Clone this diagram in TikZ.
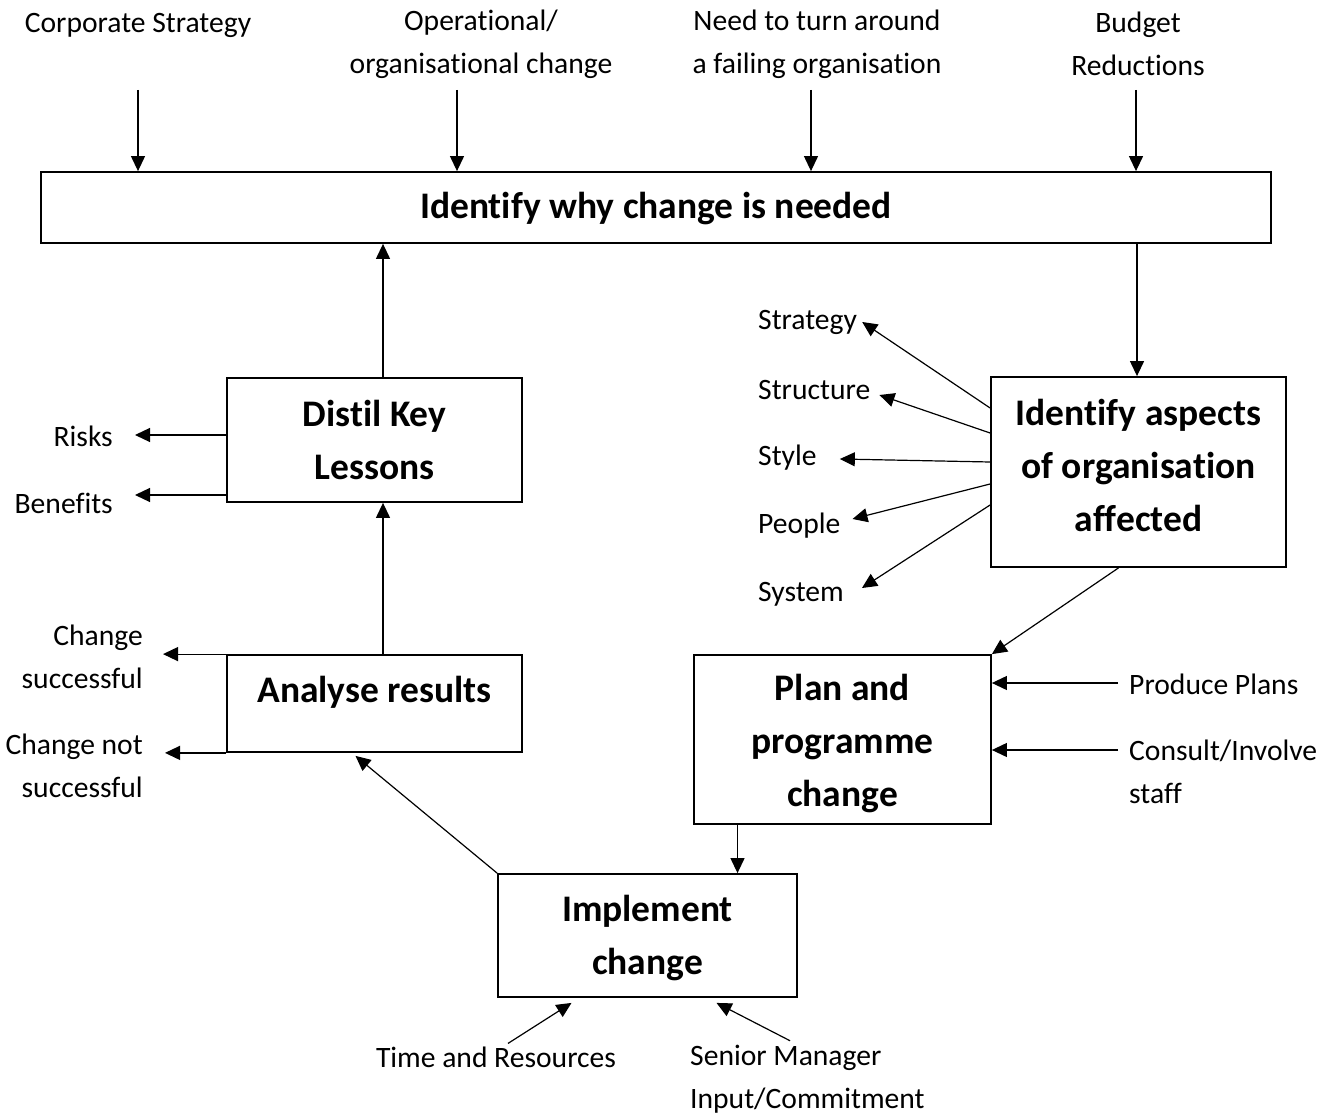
\documentclass[tikz,border=0pt]{standalone}
\usepackage{fontspec}
\setmainfont{Carlito}[Ligatures={NoCommon}]
\usetikzlibrary{arrows.meta,calc}
\begin{document}
\begin{tikzpicture}[x=1pt,y=-1pt,
  stagebox/.style={draw, line width=1.8pt, inner sep=0pt},
  stagetext/.style={align=center, inner sep=0pt,
    font=\fontsize{37.5}{53}\selectfont\bfseries},
  lbl/.style={inner sep=0pt, align=center, font=\fontsize{29.6}{43}\selectfont},
  arr/.style={line width=1.2pt, -{Triangle[length=15pt,width=14pt]}}]
\useasboundingbox (0,0) rectangle (1333,1115);

% stages of the change cycle
\node[stagebox, minimum width=1230pt, minimum height=71pt] (top) at (656,207.5) {};
\node[stagebox, minimum width=295pt, minimum height=190pt] (aspects) at (1138.5,472) {};
\node[stagebox, minimum width=297pt, minimum height=169pt] (plan) at (842.5,739.5) {};
\node[stagebox, minimum width=299pt, minimum height=123pt] (impl) at (647.5,935.5) {};
\node[stagebox, minimum width=295pt, minimum height=97pt] (analyse) at (374.5,703.5) {};
\node[stagebox, minimum width=295pt, minimum height=124pt] (distil) at (374.5,440) {};

\node[stagetext] (topT) at (656,209) {Identify why change is needed};
\node[stagetext] (aspectsT) at (1138.5,465) {Identify aspects\\of organisation\\affected};
\node[stagetext] (planT) at (842.5,744) {Plan and\\programme\\change};
\node[stagetext] (implT) at (647.5,938.5) {Implement\\change};
\node[stagetext] (analyseT) at (374.5,692) {Analyse results};
\node[stagetext] (distilT) at (374.5,440) {Distil Key\\Lessons};

% drivers of change
\node[lbl] (corp) at (138,25) {Corporate Strategy};
\node[lbl] (oper) at (481,44) {Operational/\\organisational change};
\node[lbl] (fail) at (817,44) {Need to turn around\\a failing organisation};
\node[lbl] (budget) at (1138,44) {Budget\\Reductions};

% aspects of the organisation
\node[lbl, anchor=west] (strat) at (758,322) {Strategy};
\node[lbl, anchor=west] (struct) at (758,390) {Structure};
\node[lbl, anchor=west] (style) at (758,458) {Style};
\node[lbl, anchor=west] (people) at (758,526) {People};
\node[lbl, anchor=west] (system) at (758,594) {System};

% planning inputs
\node[lbl, anchor=west] (produce) at (1129,684) {Produce Plans};
\node[lbl, anchor=west, align=left] (consult) at (1129,772) {Consult/Involve\\staff};

% implementation inputs
\node[lbl] (time) at (496,1057) {Time and Resources};
\node[lbl, anchor=west, align=left] (senior) at (690,1079) {Senior Manager\\Input/Commitment};

% outcomes
\node[lbl, anchor=east, align=right] (succ) at (143,657) {Change\\successful};
\node[lbl, anchor=east, align=right] (fails) at (143,766) {Change not\\successful};
\node[lbl, anchor=east] (risks) at (113,436) {Risks};
\node[lbl, anchor=east] (benefits) at (113,503) {Benefits};

% drivers feed the first stage
\coordinate (d1) at (138,90);
\coordinate (d2) at (457,90);
\coordinate (d3) at (811,90);
\coordinate (d4) at (1136,90);
\draw[arr] (d1) -- (d1 |- top.north);
\draw[arr] (d2) -- (d2 |- top.north);
\draw[arr] (d3) -- (d3 |- top.north);
\draw[arr] (d4) -- (d4 |- top.north);

% main cycle
\coordinate (t2a) at ($(aspects.north)+(-1.5,0)$);
\draw[arr] (t2a |- top.south) -- (t2a);
\draw[arr] ($(aspects.south)+(-20,0)$) -- (plan.north east);
\coordinate (p2i) at ($(impl.north)+(90,0)$);
\draw[arr] (p2i |- plan.south) -- (p2i);
\draw[arr] (impl.north west) -- ($(analyse.south)+(-19,3)$);
\coordinate (a2d) at ($(analyse.north)+(8.5,0)$);
\draw[arr] (a2d) -- (a2d |- distil.south);
\coordinate (d2t) at ($(distil.north)+(8.5,0)$);
\draw[arr] (d2t) -- (d2t |- top.south);

% aspects affected
\draw[arr] (aspects.west |- 0,408) -- ($(strat.east)+(5,0)$);
\draw[arr] (aspects.west |- 0,433) -- ($(struct.east)+(9,5)$);
\draw[arr] (aspects.west |- 0,462) -- ($(style.east)+(23,1)$);
\draw[arr] (aspects.west |- 0,484) -- ($(people.east)+(12,-7)$);
\draw[arr] (aspects.west |- 0,505) -- ($(system.east)+(18,-6)$);

% planning inputs
\draw[arr] ($(produce.west)+(-11,-1)$) -- (plan.east |- 0,683);
\draw[arr] ($(consult.west)+(-11,-22)$) -- (plan.east |- 0,750);

% implementation inputs
\draw[arr] ($(time.north)+(12,-3)$) -- ($(impl.south)+(-76,5)$);
\draw[arr] ($(senior.north west)+(100,-4)$) -- ($(impl.south)+(69,5)$);

% outcomes
\draw[arr] (analyse.north west) -- ($(succ.east |- analyse.north west)+(20,0)$);
\draw[arr] (analyse.south west) -- ($(fails.east |- analyse.south west)+(22,0)$);
\draw[arr] (distil.west |- 0,435) -- ($(risks.east |- 0,435)+(22,0)$);
\draw[arr] (distil.west |- 0,495) -- ($(benefits.east |- 0,495)+(22,0)$);
\end{tikzpicture}
\end{document}
